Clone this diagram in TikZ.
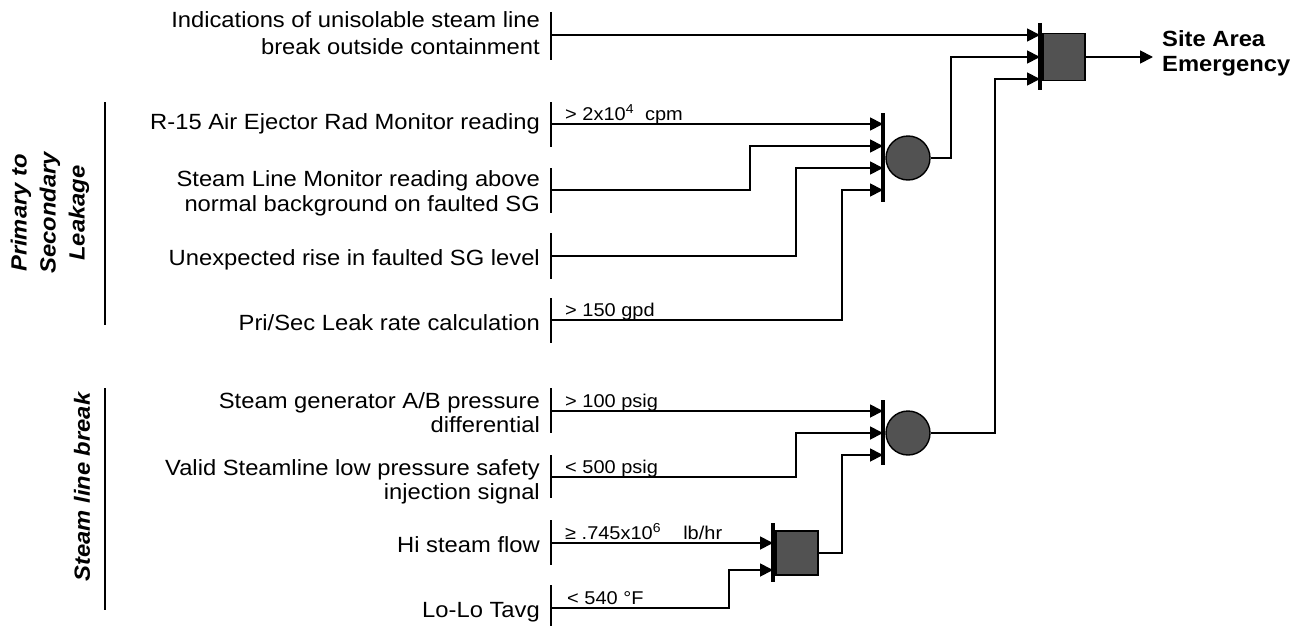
\documentclass[tikz,border=0pt]{standalone}
\usepackage{fontspec}
\setmainfont{Liberation Sans}[FakeStretch=1.08]
\usetikzlibrary{arrows.meta}
\begin{document}
\begin{tikzpicture}[x=1pt,y=-1pt,
  lbl/.style={anchor=base east,inner sep=0pt,font=\fontsize{22}{26}\selectfont},
  cond/.style={anchor=base west,inner sep=0pt,font=\fontsize{18.5}{20}\selectfont},
  outlbl/.style={anchor=base west,inner sep=0pt,font=\fontsize{22}{26}\selectfont\bfseries},
  grp/.style={rotate=90,align=center,inner sep=0pt,font=\fontsize{22}{29}\selectfont\bfseries\itshape},
  wire/.style={line width=1.8pt},
  feed/.style={wire,-{Triangle[length=13pt,width=13pt]}},
  inbar/.style={line width=2.6pt},
  gbar/.style={line width=3.4pt},
  gatefill/.style={draw=black,line width=1.4pt,fill=black!68,inner sep=0pt},
]
\useasboundingbox (0,0) rectangle (1306,626);

% ---------- group labels ----------
\node[grp] (gp) at (50,213) {Primary to\\Secondary\\Leakage};
\draw[inbar] (105,102) -- (105,325);
\node[grp] (gs) at (82,487) {Steam line break};
\draw[inbar] (105,388) -- (105,610);

% ---------- input labels ----------
\node[lbl] (t0a) at (540,28) {Indications of unisolable steam line};
\node[lbl] (t0b) at (540,55) {break outside containment};
\node[lbl] (t1) at (540,129) {R-15 Air Ejector Rad Monitor reading};
\node[lbl] (t2a) at (540,186) {Steam Line Monitor reading above};
\node[lbl] (t2b) at (540,211) {normal background on faulted SG};
\node[lbl] (t3) at (540,265) {Unexpected rise in faulted SG level};
\node[lbl] (t4) at (540,330) {Pri/Sec Leak rate calculation};
\node[lbl] (t5a) at (540,408) {Steam generator A/B pressure};
\node[lbl] (t5b) at (540,432) {differential};
\node[lbl] (t6a) at (540,475) {Valid Steamline low pressure safety};
\node[lbl] (t6b) at (540,499) {injection signal};
\node[lbl] (t7) at (540,552) {Hi steam flow};
\node[lbl] (t8) at (540,617) {Lo-Lo Tavg};

% ---------- input bars ----------
\draw[inbar] (551,12) -- (551,60);
\draw[inbar] (551,102) -- (551,147);
\draw[inbar] (551,168) -- (551,213);
\draw[inbar] (551,233) -- (551,279);
\draw[inbar] (551,298) -- (551,343);
\draw[inbar] (551,388) -- (551,433);
\draw[inbar] (551,455) -- (551,498);
\draw[inbar] (551,520) -- (551,565);
\draw[inbar] (551,585) -- (551,626);

\coordinate (i0) at (551,35);
\coordinate (i1) at (551,124);
\coordinate (i2) at (551,190);
\coordinate (i3) at (551,256);
\coordinate (i4) at (551,320);
\coordinate (i5) at (551,411);
\coordinate (i6) at (551,477);
\coordinate (i7) at (551,543);
\coordinate (i8) at (551,608);

% ---------- condition labels ----------
\node[cond] (c1l) at (565,120) {> 2x10\textsuperscript{4}\hspace{0.6em}cpm};
\node[cond] (c4l) at (565,316) {> 150 gpd};
\node[cond] (c5l) at (565,407) {> 100 psig};
\node[cond] (c6l) at (565,473) {< 500 psig};
\node[cond] (c7l) at (565,539) {≥ .745x10\textsuperscript{6}\hspace{1.2em}lb/hr};
\node[cond] (c8l) at (567,604) {< 540 °F};

% ---------- gates ----------
% top AND gate
\draw[gbar] (1040,23) -- (1040,90);
\node[gatefill,rectangle,minimum width=42pt,minimum height=47pt] (a0) at (1064,57) {};
\coordinate (a0in1) at (1040,35);
\coordinate (a0in2) at (1040,57);
\coordinate (a0in3) at (1040,79);
% upper OR gate
\draw[gbar] (883,113) -- (883,202);
\node[gatefill,circle,minimum size=44pt] (o1) at (908,158) {};
\coordinate (o1in1) at (883,124);
\coordinate (o1in2) at (883,146);
\coordinate (o1in3) at (883,168);
\coordinate (o1in4) at (883,190);
% lower OR gate
\draw[gbar] (883,400) -- (883,465);
\node[gatefill,circle,minimum size=44pt] (o2) at (908,433) {};
\coordinate (o2in1) at (883,411);
\coordinate (o2in2) at (883,433);
\coordinate (o2in3) at (883,455);
% small AND gate
\draw[gbar] (773,523) -- (773,582);
\node[gatefill,rectangle,minimum width=42pt,minimum height=44pt] (a1) at (797,553) {};
\coordinate (a1in1) at (773,543);
\coordinate (a1in2) at (773,570);

% bend points
\coordinate (k2) at (750,146);
\coordinate (k3) at (796,168);
\coordinate (k4) at (842,190);
\coordinate (k6) at (796,433);
\coordinate (k8) at (729,570);
\coordinate (k7) at (842,455);
\coordinate (k9) at (951,57);
\coordinate (k10) at (995,79);
\coordinate (out) at (1153,57);

% ---------- connectors ----------
\draw[feed] (i0) -- (a0in1);
\draw[feed] (i1) -- (o1in1);
\draw[feed] (i2) -| (k2) -- (o1in2);
\draw[feed] (i3) -| (k3) -- (o1in3);
\draw[feed] (i4) -| (k4) -- (o1in4);
\draw[feed] (i5) -- (o2in1);
\draw[feed] (i6) -| (k6) -- (o2in2);
\draw[feed] (i7) -- (a1in1);
\draw[feed] (i8) -| (k8) -- (a1in2);
\draw[feed] (a1.east) -| (k7) -- (o2in3);
\draw[feed] (o1.east) -| (k9) -- (a0in2);
\draw[feed] (o2.east) -| (k10) -- (a0in3);
\draw[feed] (a0.east) -- (out);

% ---------- output ----------
\node[outlbl] (s1) at (1162,47) {Site Area};
\node[outlbl] (s2) at (1162,71) {Emergency};
\end{tikzpicture}
\end{document}
